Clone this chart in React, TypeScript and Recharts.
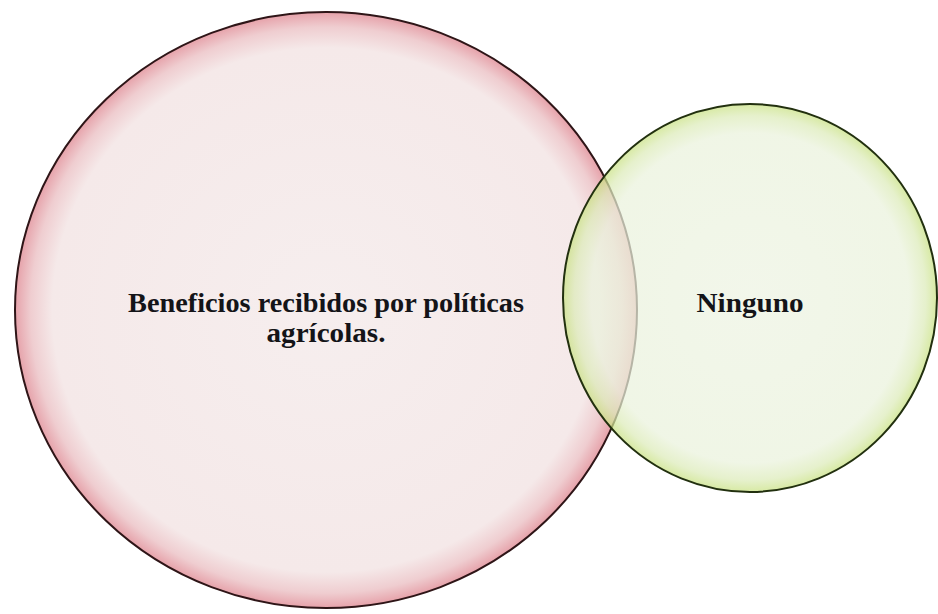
import React from "react";
import { ScatterChart, Scatter, XAxis, YAxis } from "recharts";

const CHART_W = 938;
const CHART_H = 614;
const X_DOMAIN: [number, number] = [0, 938];
const Y_DOMAIN: [number, number] = [0, 614];

// Sets of the diagram (center and radii in data units)
const setNames = ["Beneficios recibidos por políticas agrícolas.", "Ninguno"];
const setCenterX = [326, 750];
const setCenterY = [310, 298];
const setRadiusX = [311, 187];
const setRadiusY = [298, 194];
const setLabelLines = [["Beneficios recibidos por políticas", "agrícolas."], ["Ninguno"]];
const setLabelWidths = [[396, 119], [107]];
const setLabelY = [312, 312];

const data = setNames.map((name, i) => ({
  name,
  x: setCenterX[i],
  y: setCenterY[i],
  rx: setRadiusX[i],
  ry: setRadiusY[i],
  idx: i,
}));

const sx = CHART_W / (X_DOMAIN[1] - X_DOMAIN[0]);
const sy = CHART_H / (Y_DOMAIN[1] - Y_DOMAIN[0]);

const styles = [
  { fill: "url(#gradPink)", stroke: "#2e1517", opacity: 1 },
  { fill: "url(#gradGreen)", stroke: "#22300f", opacity: 0.72 },
];

const SetShape = (props: any) => {
  const { cx, cy, payload } = props;
  const i = payload.idx;
  const st = styles[i];
  return (
    <g>
      <ellipse
        cx={cx}
        cy={cy}
        rx={payload.rx * sx}
        ry={payload.ry * sy}
        fill={st.fill}
        fillOpacity={st.opacity}
        stroke={st.stroke}
        strokeWidth={2}
      />
    </g>
  );
};

const LabelShape = (props: any) => {
  const { cx, payload } = props;
  const i = payload.idx;
  const lines = setLabelLines[i];
  const baseY = (setLabelY[i] - Y_DOMAIN[0]) * sy;
  return (
    <g>
      {lines.map((t, k) => (
        <text
          key={k}
          x={cx}
          y={baseY + k * 30}
          textAnchor="middle"
          fontFamily="'Liberation Serif', 'Times New Roman', serif"
          fontWeight="bold"
          fontSize={27}
          fill="#141418"
          textLength={setLabelWidths[i][k]}
          lengthAdjust="spacingAndGlyphs"
        >
          {t}
        </text>
      ))}
    </g>
  );
};

export default function App() {
  return (
    <div style={{ position: "absolute", left: 0, top: 0, background: "#ffffff" }}>
      <ScatterChart width={CHART_W} height={CHART_H} margin={{ top: 0, right: 0, bottom: 0, left: 0 }}>
        <defs>
          <radialGradient id="gradPink" cx="50%" cy="50%" r="50%">
            <stop offset="0%" stopColor="#f6eeee" />
            <stop offset="88%" stopColor="#f5e9e9" />
            <stop offset="95%" stopColor="#efcdd0" />
            <stop offset="100%" stopColor="#e6a2aa" />
          </radialGradient>
          <radialGradient id="gradGreen" cx="50%" cy="50%" r="50%">
            <stop offset="0%" stopColor="#edf3e2" />
            <stop offset="85%" stopColor="#eaf2dc" />
            <stop offset="94%" stopColor="#dcebb8" />
            <stop offset="100%" stopColor="#c8e180" />
          </radialGradient>
        </defs>
        <XAxis type="number" dataKey="x" domain={X_DOMAIN} hide />
        <YAxis type="number" dataKey="y" domain={Y_DOMAIN} reversed hide />
        <Scatter data={data} shape={SetShape} isAnimationActive={false} />
        <Scatter data={data} shape={LabelShape} isAnimationActive={false} />
      </ScatterChart>
    </div>
  );
}
